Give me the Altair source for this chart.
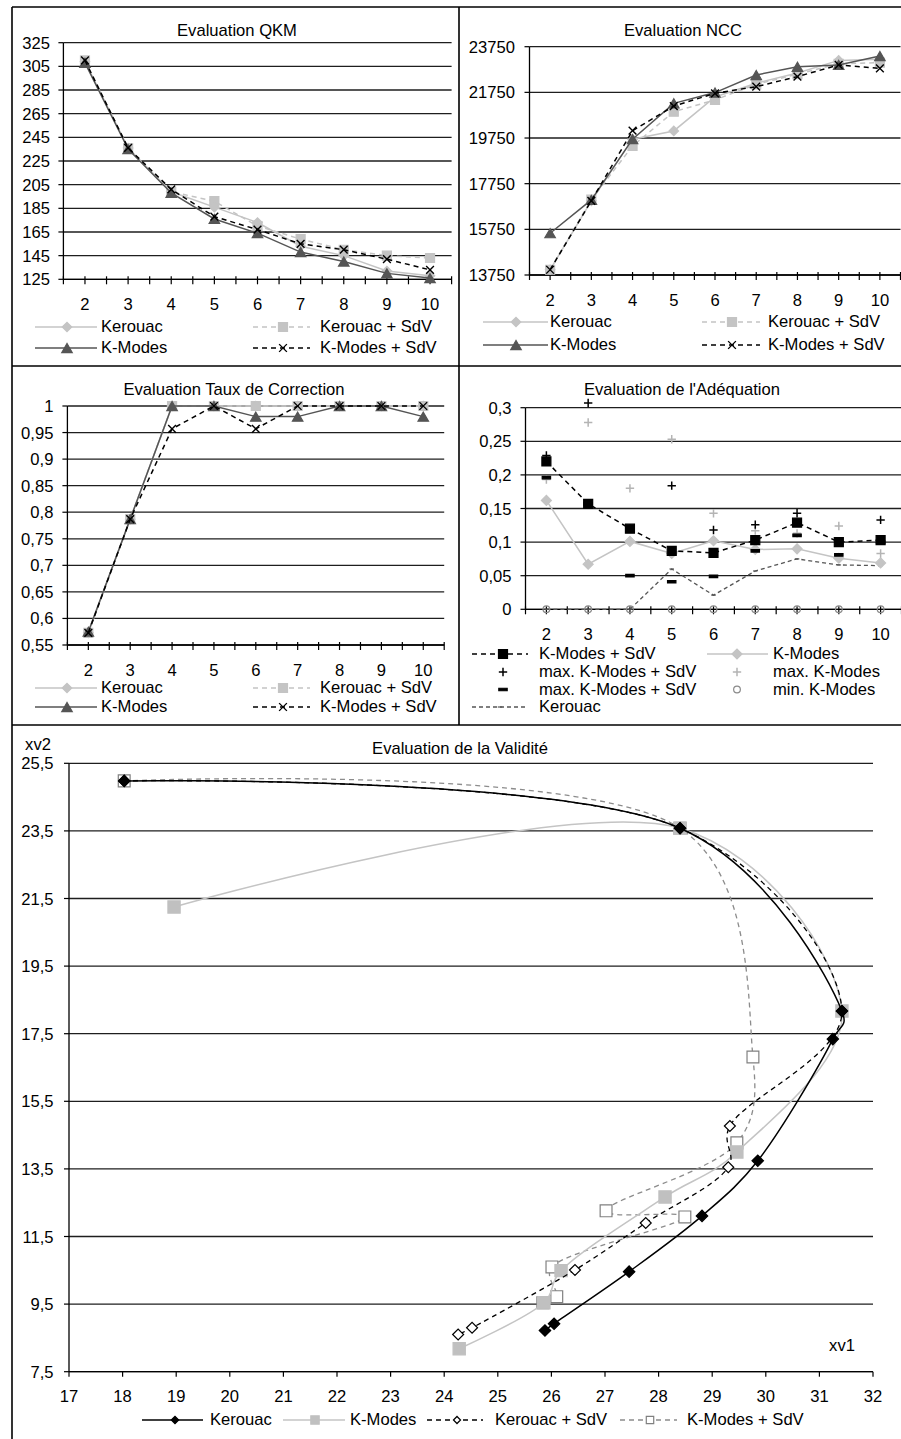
import altair as alt
import pandas as pd

FONT = "Liberation Sans"
FS = 16.6
W, H = 901, 1439
GRID = "#1e1e1e"

# ---------------- data ----------------
K = [2, 3, 4, 5, 6, 7, 8, 9, 10]

QKM_KEROUAC = [309, 236, 199, 186, 173, 153, 145, 132, 128]
QKM_KEROUAC_SDV = [310, 236, 199, 191, 170, 159, 150, 145, 143]
QKM_KMODES = [308, 235, 198, 176, 164, 148, 140, 130, 126]
QKM_KMODES_SDV = [310, 236, 201, 178, 167, 155, 150, 142, 133]

NCC_KEROUAC = [13980, 17000, 19700, 20060, 21550, 22150, 22600, 23150, 23200]
NCC_KEROUAC_SDV = [13980, 17050, 19400, 20900, 21420, 22100, 22550, 23000, 23050]
NCC_KMODES = [15580, 17040, 19700, 21270, 21740, 22510, 22870, 22950, 23340]
NCC_KMODES_SDV = [13980, 17000, 20070, 21150, 21710, 22000, 22440, 22950, 22800]

TC_KEROUAC = [0.573, 0.787, 1, 1, 1, 1, 1, 1, 1]
TC_KEROUAC_SDV = [0.573, 0.787, 1, 1, 1, 1, 1, 1, 1]
TC_KMODES = [0.575, 0.787, 1, 1, 0.98, 0.98, 1, 1, 0.98]
TC_KMODES_SDV = [0.573, 0.787, 0.957, 1, 0.957, 1, 1, 1, 1]

AD_KMODES_SDV = [0.22, 0.157, 0.12, 0.087, 0.084, 0.103, 0.129, 0.1, 0.103]
AD_KMODES = [0.162, 0.067, 0.101, 0.083, 0.102, 0.089, 0.09, 0.076, 0.069]
AD_MAX_KMODES_SDV = [0.229, 0.307, 0.12, 0.184, 0.118, 0.126, 0.143, 0.1, 0.133]
AD_MAX_KMODES = [0.193, 0.278, 0.18, 0.253, 0.143, 0.117, 0.113, 0.124, 0.083]
AD_MIN_KMODES_SDV = [0.196, 0.157, 0.05, 0.041, 0.049, 0.087, 0.11, 0.081, 0.1]
AD_MIN_KMODES = [0, 0, 0, 0, 0, 0, 0, 0, 0]
AD_KEROUAC = [0, 0, 0, 0.06, 0.021, 0.057, 0.075, 0.066, 0.065]

V_KEROUAC_X = [18.03, 28.40, 31.42, 31.25, 29.85, 28.81, 27.45, 26.05, 25.88]
V_KEROUAC_Y = [24.98, 23.58, 18.17, 17.34, 13.74, 12.11, 10.46, 8.92, 8.72]
V_KMODES_X = [18.96, 28.40, 31.42, 29.46, 28.12, 26.18, 25.86, 24.28]
V_KMODES_Y = [21.25, 23.58, 18.17, 14.00, 12.67, 10.49, 9.54, 8.18]
V_KEROUAC_SDV_X = [18.03, 28.40, 31.42, 29.33, 29.30, 27.76, 26.44, 24.52, 24.26]
V_KEROUAC_SDV_Y = [24.98, 23.58, 18.17, 14.77, 13.55, 11.90, 10.51, 8.80, 8.60]
V_KMODES_SDV_X = [18.03, 28.40, 29.76, 29.46, 27.02, 28.49, 26.01, 26.10, 25.84]
V_KMODES_SDV_Y = [24.98, 23.58, 16.81, 14.27, 12.26, 12.08, 10.60, 9.72, 9.54]

# tick values / labels
QKM_TICKS = [125, 145, 165, 185, 205, 225, 245, 265, 285, 305, 325]
NCC_TICKS = [13750, 15750, 17750, 19750, 21750, 23750]
TC_TICKS = [0.55, 0.6, 0.65, 0.7, 0.75, 0.8, 0.85, 0.9, 0.95, 1]
AD_TICKS = [0, 0.05, 0.1, 0.15, 0.2, 0.25, 0.3]
V_YTICKS = [7.5, 9.5, 11.5, 13.5, 15.5, 17.5, 19.5, 21.5, 23.5, 25.5]
V_XTICKS = [17, 18, 19, 20, 21, 22, 23, 24, 25, 26, 27, 28, 29, 30, 31, 32]
HALF = [1.5, 2, 2.5, 3, 3.5, 4, 4.5, 5, 5.5, 6, 6.5, 7, 7.5, 8, 8.5, 9, 9.5, 10, 10.5]

# ---------------- styles ----------------
XPATH = "M-1,-1L1,1M1,-1L-1,1"
PLUS = "M-1,0L1,0M0,-1L0,1"
BAR = "M-1,-0.3L1,-0.3L1,0.3L-1,0.3Z"
TICKM = "M-1,0L1,0"

TOP_STY = {
    "Kerouac": dict(color="#c4c4c4", lw=1.5, shape="diamond", size=90, fill="#c4c4c4"),
    "Kerouac + SdV": dict(color="#c4c4c4", lw=1.5, dash=[5, 4], shape="square", size=81, fill="#c4c4c4"),
    "K-Modes": dict(color="#555555", lw=1.5, shape="triangle-up", size=110, fill="#555555"),
    "K-Modes + SdV": dict(color="#000000", lw=1.5, dash=[5, 4], shape=XPATH, size=60, fill=None,
                          stroke="#000000", mw=1.4),
}
TOP_ORDER = ["Kerouac + SdV", "Kerouac", "K-Modes", "K-Modes + SdV"]

AD_STY = {
    "ker": dict(color="#555555", lw=1.3, dash=[4, 3], shape=TICKM, size=20, fill=None, stroke="#555555"),
    "km": dict(color="#c4c4c4", lw=1.5, shape="diamond", size=100, fill="#c4c4c4"),
    "kms": dict(color="#000000", lw=1.5, dash=[5, 4], shape="square", size=81, fill="#000000"),
    "minkm": dict(shape="circle", size=45, fill=None, stroke="#8a8a8a", mw=1.2),
    "maxkm": dict(shape=PLUS, size=70, fill=None, stroke="#b4b4b4", mw=1.5),
    "minkms": dict(shape=BAR, size=70, fill="#000000"),
    "maxkms": dict(shape=PLUS, size=70, fill=None, stroke="#000000", mw=1.5),
}

V_STY = {
    "Kerouac": dict(color="#000000", lw=1.5, shape="diamond", size=130, fill="#000000"),
    "K-Modes": dict(color="#c4c4c4", lw=1.5, shape="square", size=150, fill="#c0c0c0"),
    "Kerouac + SdV": dict(color="#000000", lw=1.3, dash=[5, 4], shape="diamond", size=120,
                          fill="#ffffff", stroke="#000000"),
    "K-Modes + SdV": dict(color="#8c8c8c", lw=1.3, dash=[5, 4], shape="square", size=140,
                          fill="#ffffff", stroke="#808080"),
}


# ---------------- helpers ----------------
def one():
    return alt.Data(values=[{"u": 0}])


def txt(x, y, s, align="left", size=FS):
    return alt.Chart(one()).mark_text(text=s, align=align, baseline="middle", font=FONT,
                                      fontSize=size, color="black").encode(
        x=alt.value(x), y=alt.value(y))


def hline(x1, x2, y, color="black", w=1.6, dash=None):
    kw = dict(color=color, strokeWidth=w)
    if dash:
        kw["strokeDash"] = dash
    return alt.Chart(one()).mark_rule(**kw).encode(x=alt.value(x1), x2=alt.value(x2), y=alt.value(y))


def vline(x, y1, y2, color="black", w=1.6):
    return alt.Chart(one()).mark_rule(color=color, strokeWidth=w).encode(
        x=alt.value(x), y=alt.value(y1), y2=alt.value(y2))


def point_kw(st, size=None):
    kw = dict(shape=st["shape"], size=size if size else st["size"], opacity=1,
              strokeWidth=st.get("mw", 1.2))
    if st.get("fill") is None:
        kw.update(filled=False, color=st["stroke"])
    else:
        kw.update(filled=True, fill=st["fill"], stroke=st.get("stroke", st["fill"]))
    return kw


def marker(x, y, st, size=None):
    return alt.Chart(one()).mark_point(**point_kw(st, size)).encode(x=alt.value(x), y=alt.value(y))


def legend_item(x1, x2, xm, y, xl, label, st, msize=None):
    out = []
    if st.get("color") and x1 is not None:
        out.append(hline(x1, x2, y, st["color"], st.get("lw", 1.5), st.get("dash")))
    if st.get("shape"):
        out.append(marker(xm, y, st, msize))
    out.append(txt(xl, y, label))
    return out


def fmt_num(v):
    return ("%g" % v).replace(".", ",")


def axes_layers(xs, ys, xr, yr, xticks, xlabels, yticks, ypad, cross=True):
    """Manual axes drawn through the panel's own scales."""
    x0, x1 = xr
    yb, yt = yr
    out = []
    out.append(alt.Chart(pd.DataFrame({"g": yticks})).mark_rule(color=GRID, strokeWidth=1.3).encode(
        y=alt.Y("g:Q", scale=ys, axis=None), x=alt.value(x0), x2=alt.value(x1)))
    out.append(vline(x0, yt, yb, "black", 1.3))
    out.append(alt.Chart(pd.DataFrame({"g": yticks})).mark_rule(color="black", strokeWidth=1.2).encode(
        y=alt.Y("g:Q", scale=ys, axis=None), x=alt.value(x0 - 5), x2=alt.value(x0)))
    out.append(alt.Chart(pd.DataFrame({"g": yticks, "lab": [fmt_num(v) for v in yticks]})).mark_text(
        align="right", baseline="middle", font=FONT, fontSize=FS, color="black", dy=1).encode(
        y=alt.Y("g:Q", scale=ys, axis=None), x=alt.value(x0 - 5 - ypad), text="lab:N"))
    out.append(hline(x0, x1, yb, "black", 1.3))
    out.append(alt.Chart(pd.DataFrame({"t": xticks})).mark_rule(color="black", strokeWidth=1.2).encode(
        x=alt.X("t:Q", scale=xs, axis=None), y=alt.value(yb - 3 if cross else yb), y2=alt.value(yb + 5)))
    out.append(alt.Chart(pd.DataFrame({"t": xlabels, "lab": [fmt_num(v) for v in xlabels]})).mark_text(
        align="center", baseline="middle", font=FONT, fontSize=FS, color="black").encode(
        x=alt.X("t:Q", scale=xs, axis=None), y=alt.value(yb + 25.5), text="lab:N"))
    return out


def series_layers(df, xf, yf, xs, ys, st, interp=None, order=False):
    out = []
    if st.get("color"):
        kw = dict(color=st["color"], strokeWidth=st.get("lw", 1.5))
        if st.get("dash"):
            kw["strokeDash"] = st["dash"]
        if interp:
            kw["interpolate"] = interp
            kw["tension"] = 0.35
        enc = dict(x=alt.X(xf, scale=xs, axis=None), y=alt.Y(yf, scale=ys, axis=None))
        if order:
            enc["order"] = alt.Order("k:Q")
        out.append(alt.Chart(df).mark_line(**kw).encode(**enc))
    out.append(alt.Chart(df).mark_point(**point_kw(st)).encode(
        x=alt.X(xf, scale=xs, axis=None), y=alt.Y(yf, scale=ys, axis=None)))
    return out


def top_panel(xr, yd, yr, yticks, ypad, series, styles, order):
    xs = alt.Scale(domain=[1.5, 10.5], range=xr, nice=False, zero=False)
    ys = alt.Scale(domain=yd, range=yr, nice=False, zero=False)
    layers = axes_layers(xs, ys, xr, yr, HALF, K, yticks, ypad, cross=True)
    for name in order:
        df = pd.DataFrame({"k": K, "v": series[name]})
        layers += series_layers(df, "k:Q", "v:Q", xs, ys, styles[name])
    return alt.layer(*layers)


# ---------------- panels ----------------
panels = []

panels.append(top_panel(
    [63.4, 451.6], [125, 325], [279.3, 42.7], QKM_TICKS, 8.5,
    {"Kerouac": QKM_KEROUAC, "Kerouac + SdV": QKM_KEROUAC_SDV,
     "K-Modes": QKM_KMODES, "K-Modes + SdV": QKM_KMODES_SDV}, TOP_STY, TOP_ORDER))

panels.append(top_panel(
    [529.5, 900.5], [13750, 23750], [275.0, 46.7], NCC_TICKS, 9.5,
    {"Kerouac": NCC_KEROUAC, "Kerouac + SdV": NCC_KEROUAC_SDV,
     "K-Modes": NCC_KMODES, "K-Modes + SdV": NCC_KMODES_SDV}, TOP_STY, TOP_ORDER))

panels.append(top_panel(
    [67.4, 444.2], [0.55, 1.0], [645.0, 406.0], TC_TICKS, 9,
    {"Kerouac": TC_KEROUAC, "Kerouac + SdV": TC_KEROUAC_SDV,
     "K-Modes": TC_KMODES, "K-Modes + SdV": TC_KMODES_SDV}, TOP_STY, TOP_ORDER))

panels.append(top_panel(
    [525.5, 901.5], [0, 0.3], [609.3, 407.7], AD_TICKS, 9,
    {"ker": AD_KEROUAC, "km": AD_KMODES, "kms": AD_KMODES_SDV, "minkm": AD_MIN_KMODES,
     "maxkm": AD_MAX_KMODES, "minkms": AD_MIN_KMODES_SDV, "maxkms": AD_MAX_KMODES_SDV},
    AD_STY, ["ker", "km", "kms", "minkm", "maxkm", "minkms", "maxkms"]))

# validity panel
VXR = [69, 873]
VYR = [1371.7, 763.3]
vxs = alt.Scale(domain=[17, 32], range=VXR, nice=False, zero=False)
vys = alt.Scale(domain=[7.5, 25.5], range=VYR, nice=False, zero=False)
vlayers = axes_layers(vxs, vys, VXR, VYR, V_XTICKS, V_XTICKS, V_YTICKS, 10.5, cross=False)
V_DATA = {
    "K-Modes + SdV": (V_KMODES_SDV_X, V_KMODES_SDV_Y),
    "K-Modes": (V_KMODES_X, V_KMODES_Y),
    "Kerouac + SdV": (V_KEROUAC_SDV_X, V_KEROUAC_SDV_Y),
    "Kerouac": (V_KEROUAC_X, V_KEROUAC_Y),
}
for name, (xv, yv) in V_DATA.items():
    df = pd.DataFrame({"k": list(range(len(xv))), "x": xv, "y": yv})
    vlayers += series_layers(df, "x:Q", "y:Q", vxs, vys, V_STY[name], interp="catmull-rom", order=True)
panels.append(alt.layer(*vlayers))

# ---------------- decorations: borders, titles, legends ----------------
deco = []
deco.append(hline(12, 901, 7))
deco.append(vline(12, 7, 1439))
deco.append(vline(459, 7, 725))
deco.append(hline(12, 901, 366))
deco.append(hline(12, 901, 725))

deco.append(txt(237, 31, "Evaluation QKM", "center"))
deco.append(txt(683, 31, "Evaluation NCC", "center"))
deco.append(txt(234, 390, "Evaluation Taux de Correction", "center"))
deco.append(txt(682, 390, "Evaluation de l'Adéquation", "center"))
deco.append(txt(460, 749, "Evaluation de la Validité", "center"))
deco.append(txt(842, 1346, "xv1", "center"))
deco.append(txt(38, 745, "xv2", "center"))


def top_legend(c1, c2, rows):
    out = []
    grid = [["Kerouac", "Kerouac + SdV"], ["K-Modes", "K-Modes + SdV"]]
    for r, y in enumerate(rows):
        for c, (x1, x2, xm, xl) in enumerate([c1, c2]):
            name = grid[r][c]
            out += legend_item(x1, x2, xm, y, xl, name, TOP_STY[name])
    return out


deco += top_legend((35, 97, 67, 101), (253, 310, 283, 320), [327, 348])
deco += top_legend((483, 548, 516, 550), (702, 760, 732, 768), [322, 345])
deco += top_legend((35, 97, 67, 101), (253, 310, 283, 320), [688, 707])

deco += legend_item(472, 528, 503, 654, 539, "K-Modes + SdV", AD_STY["kms"])
deco += legend_item(707, 768, 737, 654, 773, "K-Modes", AD_STY["km"])
deco += legend_item(None, None, 503, 672, 539, "max. K-Modes + SdV", AD_STY["maxkms"])
deco += legend_item(None, None, 737, 672, 773, "max. K-Modes", AD_STY["maxkm"])
deco += legend_item(None, None, 503, 689.5, 539, "max. K-Modes + SdV", AD_STY["minkms"])
deco += legend_item(None, None, 737, 689.5, 773, "min. K-Modes", AD_STY["minkm"])
deco += legend_item(472, 528, 500, 707, 539, "Kerouac", AD_STY["ker"])

deco += legend_item(142, 203, 175, 1420, 210, "Kerouac", V_STY["Kerouac"], 55)
deco += legend_item(283, 345, 315, 1420, 350, "K-Modes", V_STY["K-Modes"], 70)
deco += legend_item(427, 483, 457, 1420, 495, "Kerouac + SdV", V_STY["Kerouac + SdV"], 50)
deco += legend_item(620, 677, 650, 1420, 687, "K-Modes + SdV", V_STY["K-Modes + SdV"], 55)

chart = alt.layer(*panels, *deco).resolve_scale(
    x="independent", y="independent"
).properties(
    width=W, height=H, padding=0, autosize=alt.AutoSizeParams(type="none"),
    background="white"
).configure_view(stroke=None)

chart.save("out.html", embed_options={"renderer": "svg", "actions": False})
